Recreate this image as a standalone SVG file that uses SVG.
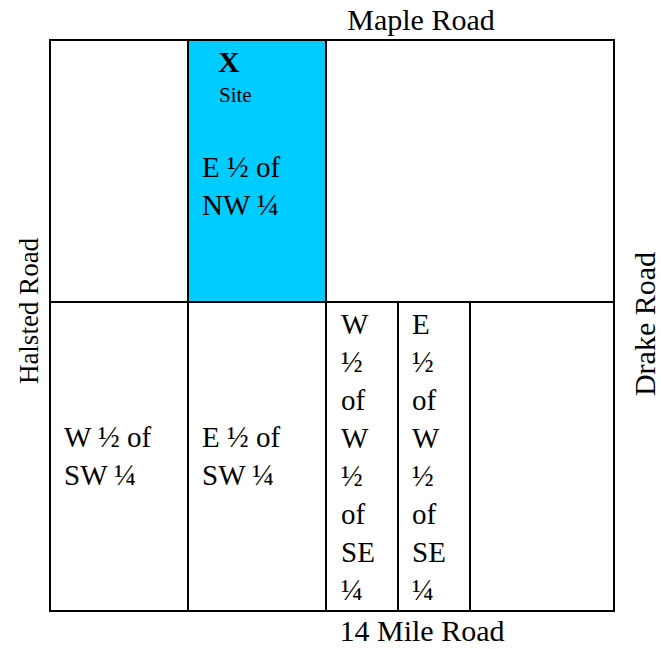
<svg xmlns="http://www.w3.org/2000/svg" width="661" height="649" viewBox="0 0 661 649">
<style>
.t{font-family:"Liberation Serif","Times New Roman",serif;font-size:29px;fill:#000}
.r{font-size:30px}
.ln{stroke:#000;stroke-width:2;fill:none}
</style>
<rect width="661" height="649" fill="#fff"/>
<g id="site">
<rect x="188" y="40" width="138" height="262" fill="#00CCFF"/>
<text class="t" x="218" y="72" style="font-weight:bold;font-size:30px">X</text>
<text class="t" x="219" y="102" style="font-size:21px">Site</text>
<text class="t" x="202" y="177">E ½ of</text>
<text class="t" x="202" y="215">NW ¼</text>
</g>
<g id="grid">
<rect class="ln" x="50" y="40" width="564" height="571"/>
<line class="ln" x1="50" y1="302" x2="614" y2="302"/>
<line class="ln" x1="188" y1="40" x2="188" y2="611"/>
<line class="ln" x1="326" y1="40" x2="326" y2="611"/>
<line class="ln" x1="398" y1="302" x2="398" y2="611"/>
<line class="ln" x1="470" y1="302" x2="470" y2="611"/>
</g>
<g id="w-sw">
<text class="t" x="64" y="447">W ½ of</text>
<text class="t" x="64" y="485">SW ¼</text>
</g>
<g id="e-sw">
<text class="t" x="202" y="447">E ½ of</text>
<text class="t" x="202" y="485">SW ¼</text>
</g>
<g id="w-se">
<text class="t" x="341" y="334">W</text>
<text class="t" x="341" y="372">½</text>
<text class="t" x="341" y="410">of</text>
<text class="t" x="341" y="448">W</text>
<text class="t" x="341" y="486">½</text>
<text class="t" x="341" y="524">of</text>
<text class="t" x="341" y="562">SE</text>
<text class="t" x="341" y="600">¼</text>
</g>
<g id="e-se">
<text class="t" x="412" y="334">E</text>
<text class="t" x="412" y="372">½</text>
<text class="t" x="412" y="410">of</text>
<text class="t" x="412" y="448">W</text>
<text class="t" x="412" y="486">½</text>
<text class="t" x="412" y="524">of</text>
<text class="t" x="412" y="562">SE</text>
<text class="t" x="412" y="600">¼</text>
</g>
<g id="roads">
<text class="t r" x="421" y="30" text-anchor="middle">Maple Road</text>
<text class="t r" x="422" y="641" text-anchor="middle">14 Mile Road</text>
<text class="t" transform="translate(38 311) rotate(-90)" text-anchor="middle" style="font-size:27px">Halsted Road</text>
<text class="t r" transform="translate(655 324) rotate(-90)" text-anchor="middle">Drake Road</text>
</g>
</svg>
